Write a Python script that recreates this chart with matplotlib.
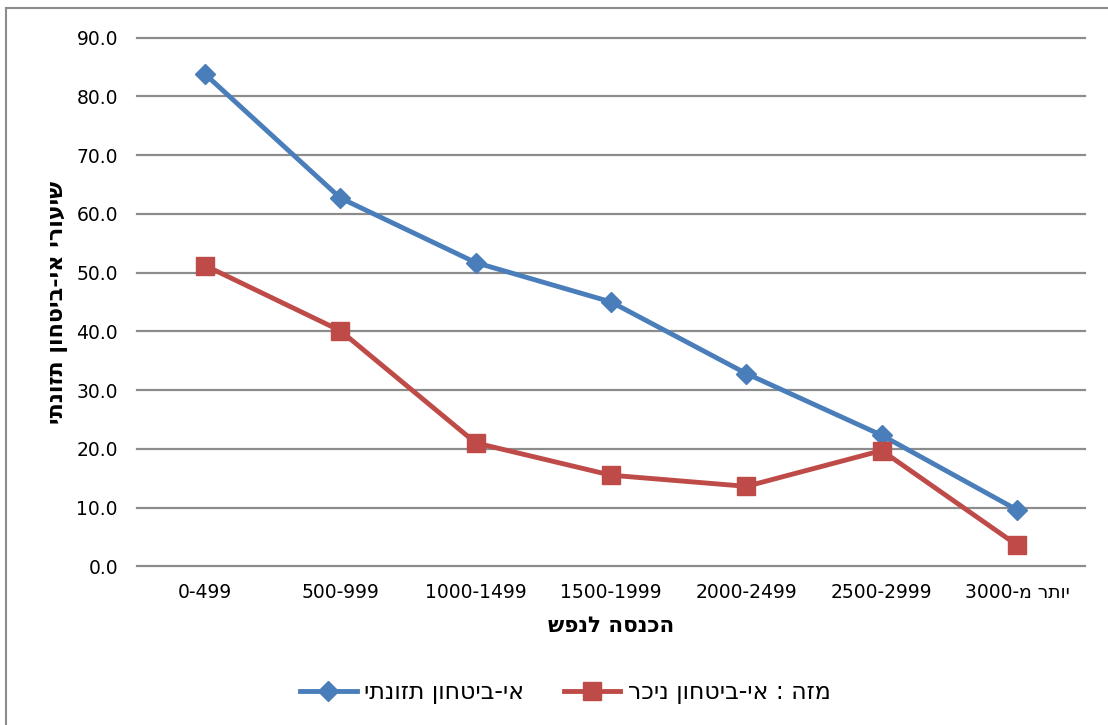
import matplotlib.pyplot as plt
from matplotlib.lines import Line2D

# Hebrew strings are stored in visual (left-to-right) order, matplotlib has no bidi
categories = ["0-499", "500-999", "1000-1499", "1500-1999", "2000-2499", "2500-2999", "3000-מ רתוי"]
food_insecurity = [83.8, 62.7, 51.7, 45.0, 32.8, 22.3, 9.6]
severe_insecurity = [51.2, 40.1, 21.0, 15.5, 13.6, 19.7, 3.6]
series_labels = ["יתנוזת ןוחטיב-יא", "רכינ ןוחטיב-יא : הזמ"]
y_ticks = [0, 10, 20, 30, 40, 50, 60, 70, 80, 90]

BLUE = "#4A7EBB"
RED = "#BE4B48"
GRID = "#8C8C8C"

plt.rcParams["font.family"] = ["DejaVu Sans"]

fig = plt.figure(figsize=(11.08, 7.25), dpi=100)
ax = fig.add_axes([0.124, 0.219, 0.855, 0.729])

x = range(len(categories))
ax.plot(x, food_insecurity, color=BLUE, lw=3.5, marker="D", ms=10,
        markeredgecolor=BLUE, label=series_labels[0], zorder=3)
ax.plot(x, severe_insecurity, color=RED, lw=3.5, marker="s", ms=13,
        markeredgecolor=RED, label=series_labels[1], zorder=3)

ax.set_xlim(-0.5, len(categories) - 0.5)
ax.set_ylim(0, 90)
ax.set_yticks(y_ticks)
ax.set_yticklabels([f"{v:.1f}" for v in y_ticks], fontsize=13.5)
ax.set_xticks(list(x))
ax.set_xticklabels(categories, fontsize=13.5)
ax.tick_params(axis="both", length=0)
ax.tick_params(axis="x", pad=12)
ax.tick_params(axis="y", pad=14)

ax.grid(axis="y", color=GRID, lw=1.6)
for gl in ax.get_ygridlines():
    gl.set_clip_on(False)
ax.set_axisbelow(True)
for s in ax.spines.values():
    s.set_visible(False)

ax.set_xlabel("שפנל הסנכה", fontsize=15.5, fontweight="bold", labelpad=10)
ax.set_ylabel("יתנוזת ןוחטיב-יא ירועיש", fontsize=16, fontweight="bold")
ax.yaxis.set_label_coords(-0.073, 0.5)

fig.legend(loc="center", bbox_to_anchor=(0.51, 0.045), ncol=2, frameon=False,
           fontsize=17, handlelength=2.4, columnspacing=1.7, handletextpad=0.3)

# outer chart border (top and left visible)
fig.add_artist(Line2D([6 / 1108, 6 / 1108], [0, 1 - 8 / 725], transform=fig.transFigure,
                      color="#8C8C8C", lw=1.5))
fig.add_artist(Line2D([6 / 1108, 1], [1 - 8 / 725, 1 - 8 / 725], transform=fig.transFigure,
                      color="#8C8C8C", lw=1.5))

fig.savefig("out.png", dpi=100)
